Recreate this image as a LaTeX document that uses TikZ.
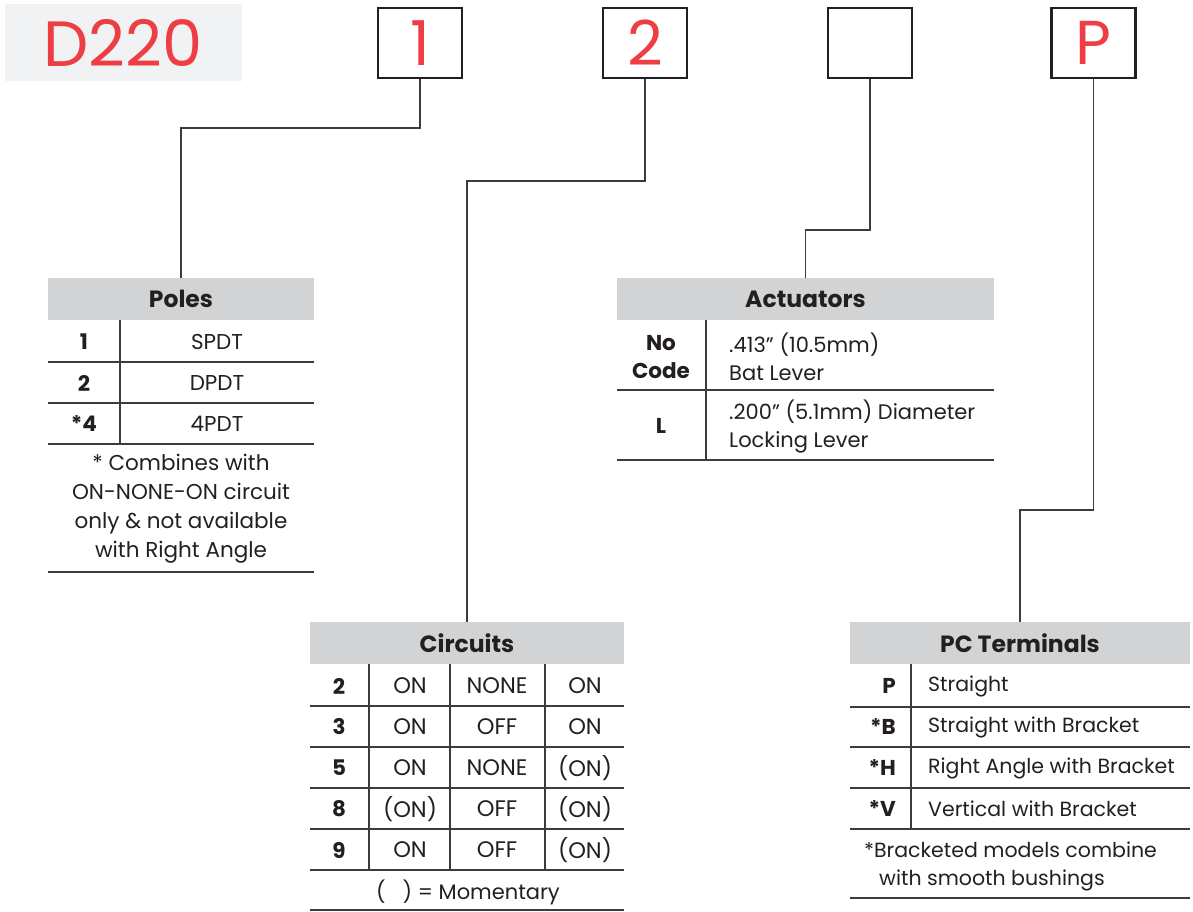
\documentclass[tikz,border=0pt]{standalone}
\usepackage{fontspec}
\setmainfont{Poppins}
\definecolor{redtxt}{RGB}{238,62,68}
\definecolor{hdrgray}{RGB}{209,211,212}
\definecolor{pnlgray}{RGB}{241,242,244}
\definecolor{ink}{RGB}{35,31,32}
\definecolor{rulec}{RGB}{60,60,60}
\tikzset{
  codebox/.style={draw=ink, line width=2.4pt, minimum width=84pt, minimum height=70pt, inner sep=0pt, text=redtxt, font=\fontsize{62}{62}\selectfont},
  hdr/.style={fill=hdrgray, inner sep=0pt, minimum height=42pt, font=\fontsize{23.5}{23.5}\selectfont\bfseries, text=ink},
  conn/.style={draw=rulec, line width=1.3pt},
  rl/.style={draw=rulec, line width=1.4pt},
  cell/.style={inner sep=0pt, font=\fontsize{20.5}{20.5}\selectfont, text=ink},
  capcell/.style={inner sep=0pt, font=\fontsize{22.5}{22.5}\selectfont, text=ink},
  code/.style={inner sep=0pt, font=\fontsize{21.5}{21.5}\selectfont\bfseries, text=ink},
}
\begin{document}
\begin{tikzpicture}[x=1pt,y=-1pt]
\useasboundingbox (0,0) rectangle (1193,911);
% title panel
\node[fill=pnlgray, minimum width=237pt, minimum height=77pt, inner sep=0pt, text=redtxt, font=\fontsize{64}{64}\selectfont] (title) at (123,42.5) {D220};
% code boxes
\node[codebox] (b1) at (420,43) {1};
\node[codebox] (b2) at (645,43) {2};
\node[codebox] (b3) at (870,43) {};
\node[codebox] (b4) at (1093.5,43) {P};
% headers
\node[hdr, minimum width=266pt] (poles) at (181,299) {Poles};
\node[hdr, minimum width=377pt] (act) at (805.5,299) {Actuators};
\node[hdr, minimum width=314pt] (circ) at (467,643) {Circuits};
\node[hdr, minimum width=340pt] (pct) at (1020,643) {PC Terminals};
% connectors
\coordinate (k1) at (420,128);
\coordinate (k2) at (645,181);
\coordinate (k3) at (870,230);
\coordinate (k4) at (1093.5,510);
\draw[conn] (b1.south) -- (k1) -| (poles.north);
\draw[conn] (b2.south) -- (k2) -| (circ.north);
\draw[conn] (b3.south) -- (k3) -| (act.north);
\draw[conn] (b4.south) -- (k4) -| (pct.north);
% ---------- Poles table
\draw[rl] (120,320) -- (120,444);
\foreach \yy in {362,403,444,572} \draw[rl] (48,\yy) -- (314,\yy);
\node[code] (p1a) at (84,342) {1};
\node[capcell, font=\fontsize{21.5}{21.5}\selectfont] (p1b) at (217,342) {SPDT};
\node[code] (p2a) at (84,383) {2};
\node[capcell, font=\fontsize{21.5}{21.5}\selectfont] (p2b) at (217,383) {DPDT};
\node[code] (p3a) at (84,424) {*4};
\node[capcell, font=\fontsize{21.5}{21.5}\selectfont] (p3b) at (217,424) {4PDT};
\node[cell, align=center, font=\fontsize{21.5}{29}\selectfont] (pnote) at (181,509) {* Combines with\\ON-NONE-ON circuit\\only \& not available\\with Right Angle};
% ---------- Actuators table
\draw[rl] (706,320) -- (706,460);
\foreach \yy in {390,460} \draw[rl] (617,\yy) -- (994,\yy);
\node[code, align=center, font=\fontsize{21.5}{28}\selectfont\bfseries] (a1a) at (661,357) {No\\Code};
\node[cell, align=left, anchor=west, font=\fontsize{21}{28}\selectfont] (a1b) at (729,357) {.413” (10.5mm)\\Bat Lever};
\node[code] (a2a) at (661,426) {L};
\node[cell, align=left, anchor=west, font=\fontsize{21}{28}\selectfont] (a2b) at (729,427) {.200” (5.1mm) Diameter\\Locking Lever};
% ---------- Circuits table
\foreach \xx in {369,450,545} \draw[rl] (\xx,664) -- (\xx,870);
\foreach \yy in {706,747,788,829,870,910} \draw[rl] (310,\yy) -- (624,\yy);
\foreach \n/\a/\b/\c/\yy in {2/ON/NONE/ON/686, 3/ON/OFF/ON/727, 5/ON/NONE/(ON)/768, 8/(ON)/OFF/(ON)/809, 9/ON/OFF/(ON)/850}{
  \node[code] (c\n n) at (339,\yy) {\n};
  \node[capcell] (c\n a) at (410,\yy) {\a};
  \node[capcell] (c\n b) at (497,\yy) {\b};
  \node[capcell] (c\n c) at (585,\yy) {\c};
}
\node[cell, font=\fontsize{21}{21}\selectfont] (mom) at (468,892) {(\hspace{17pt}) = Momentary};
% ---------- PC Terminals table
\draw[rl] (911,664) -- (911,829);
\foreach \yy in {707,747,788,829,898} \draw[rl] (850,\yy) -- (1190,\yy);
\foreach \c/\d/\yy/\i in {P/Straight/686/1, *B/Straight with Bracket/727/2, *H/Right Angle with Bracket/768/3, *V/Vertical with Bracket/809/4}{
  \node[code, anchor=east] (t\i a) at (896,\yy) {\c};
  \node[cell, anchor=west] (t\i b) at (928,\yy) {\d};
}
\node[cell, align=left, anchor=west, font=\fontsize{20.5}{28}\selectfont] (tnote) at (864,866) {*Bracketed models combine\\\hspace{15pt}with smooth bushings};
\end{tikzpicture}
\end{document}
